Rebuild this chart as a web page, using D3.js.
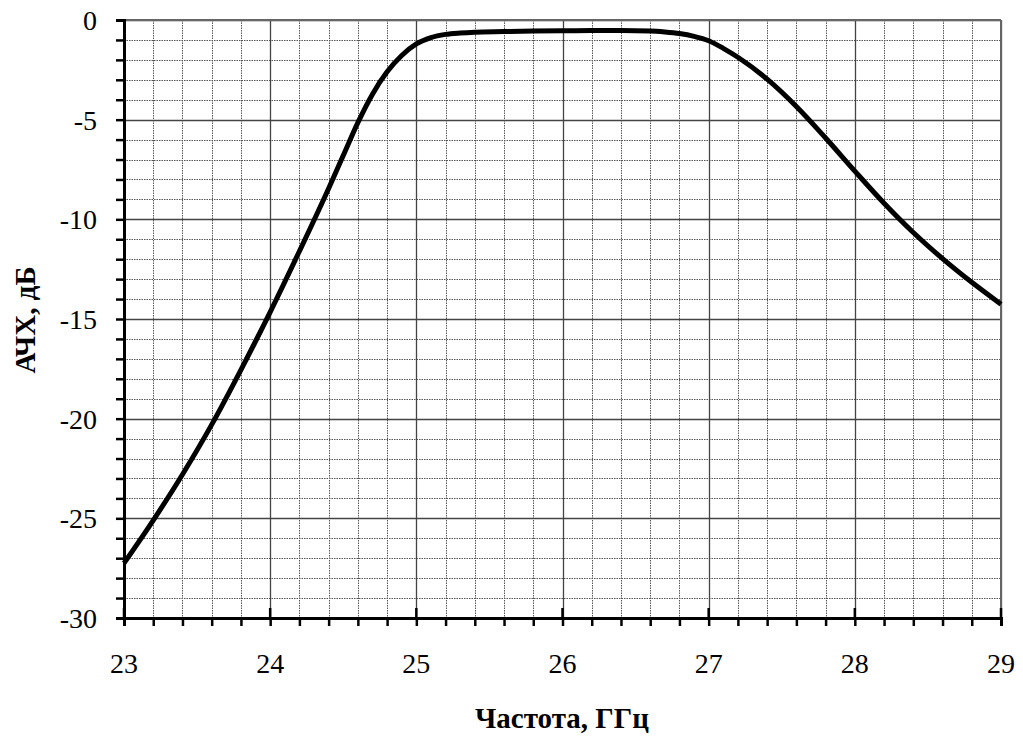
<!DOCTYPE html>
<html>
<head>
<meta charset="utf-8">
<script src="https://cdn.jsdelivr.net/npm/d3@7"></script>
<style>
  body { margin: 0; background: #fff; }
</style>
</head>
<body>
<svg width="1023" height="737" font-family="'Liberation Serif', 'Times New Roman', serif"></svg>
<script>
// frequency, GHz
var freq = [23.0, 23.2, 23.4, 23.6, 23.8, 24.0, 24.2, 24.4, 24.5, 24.6, 24.7, 24.8, 24.9, 25.0, 25.1, 25.2, 25.3,
            25.4, 25.6, 25.8, 26.0, 26.2, 26.4, 26.6, 26.7, 26.8, 26.9, 27.0, 27.1, 27.2, 27.4,
            27.6, 27.8, 28.0, 28.2, 28.4, 28.6, 28.8, 29.0];
// АЧХ, dB
var gain = [-27.25, -25.1, -22.8, -20.3, -17.55, -14.65, -11.6, -8.45, -6.8, -5.15, -3.72, -2.6, -1.78, -1.2, -0.88, -0.72, -0.65,
            -0.61, -0.58, -0.55, -0.54, -0.53, -0.53, -0.55, -0.6, -0.68, -0.82, -1.04, -1.42, -1.87, -2.97,
            -4.34, -5.92, -7.58, -9.19, -10.66, -11.97, -13.16, -14.26];

var xTicks = [23, 24, 25, 26, 27, 28, 29];
var yTicks = [0, -5, -10, -15, -20, -25, -30];

var plotLeft = 124, plotRight = 1001, plotTop = 20, plotBottom = 618;

var svg = d3.select("svg");

var x = d3.scaleLinear().domain([23, 29]).range([plotLeft, plotRight]);
var y = d3.scaleLinear().domain([-30, 0]).range([plotBottom, plotTop]);

var xMinor = d3.range(0, 31).map(function(i) { return 23 + i * 0.2; });
var yMinor = d3.range(-30, 1);

// minor grid (dotted)
svg.append("g").selectAll("line")
  .data(xMinor)
  .enter()
  .append("line")
  .attr("x1", function(d) { return Math.round(x(d)) + 0.5; })
  .attr("x2", function(d) { return Math.round(x(d)) + 0.5; })
  .attr("y1", plotTop)
  .attr("y2", plotBottom)
  .attr("stroke", "#555")
  .attr("stroke-width", 1)
  .attr("stroke-dasharray", "1.5,1");

svg.append("g").selectAll("line")
  .data(yMinor)
  .enter()
  .append("line")
  .attr("x1", plotLeft)
  .attr("x2", plotRight)
  .attr("y1", function(d) { return Math.round(y(d)) + 0.5; })
  .attr("y2", function(d) { return Math.round(y(d)) + 0.5; })
  .attr("stroke", "#555")
  .attr("stroke-width", 1)
  .attr("stroke-dasharray", "1.5,1");

// major grid (solid)
svg.append("g").selectAll("line")
  .data(xTicks)
  .enter()
  .append("line")
  .attr("x1", function(d) { return Math.round(x(d)) + 0.5; })
  .attr("x2", function(d) { return Math.round(x(d)) + 0.5; })
  .attr("y1", plotTop)
  .attr("y2", plotBottom)
  .attr("stroke", "#444")
  .attr("stroke-width", 1.3);

svg.append("g").selectAll("line")
  .data(yTicks)
  .enter()
  .append("line")
  .attr("x1", plotLeft)
  .attr("x2", plotRight)
  .attr("y1", function(d) { return Math.round(y(d)) + 0.5; })
  .attr("y2", function(d) { return Math.round(y(d)) + 0.5; })
  .attr("stroke", "#444")
  .attr("stroke-width", 1.3);

// top and right border
svg.append("line").attr("x1", plotLeft).attr("x2", plotRight).attr("y1", plotTop).attr("y2", plotTop)
  .attr("stroke", "#666").attr("stroke-width", 2);
svg.append("line").attr("x1", plotRight).attr("x2", plotRight).attr("y1", plotTop).attr("y2", plotBottom)
  .attr("stroke", "#666").attr("stroke-width", 2);

// axes
var xAxis = d3.axisBottom(x).tickValues(xMinor).tickSize(8).tickFormat("");
var yAxis = d3.axisLeft(y).tickValues(yMinor).tickSize(8).tickFormat("");

var gx = svg.append("g").attr("transform", "translate(0," + plotBottom + ")").call(xAxis);
var gy = svg.append("g").attr("transform", "translate(" + plotLeft + ",0)").call(yAxis);

[gx, gy].forEach(function(g) {
  g.select(".domain").attr("stroke", "#000").attr("stroke-width", 3);
  g.selectAll(".tick line").attr("stroke", "#000").attr("stroke-width", 2.5);
});

// inner part of major ticks on x axis
svg.append("g").selectAll("line")
  .data(xTicks)
  .enter()
  .append("line")
  .attr("x1", function(d) { return x(d); })
  .attr("x2", function(d) { return x(d); })
  .attr("y1", plotBottom - 10)
  .attr("y2", plotBottom)
  .attr("stroke", "#000")
  .attr("stroke-width", 2.5);

// tick labels
svg.append("g").selectAll("text")
  .data(xTicks)
  .enter()
  .append("text")
  .attr("x", function(d) { return x(d); })
  .attr("y", 673)
  .attr("text-anchor", "middle")
  .attr("font-size", 28)
  .text(function(d) { return d; });

svg.append("g").selectAll("text")
  .data(yTicks)
  .enter()
  .append("text")
  .attr("x", 97)
  .attr("y", function(d) { return y(d) + 10; })
  .attr("text-anchor", "end")
  .attr("font-size", 28)
  .text(function(d) { return d; });

// curve
var line = d3.line()
  .x(function(d) { return x(d[0]); })
  .y(function(d) { return y(d[1]); })
  .curve(d3.curveMonotoneX);

svg.append("path")
  .datum(d3.zip(freq, gain))
  .attr("d", line)
  .attr("fill", "none")
  .attr("stroke", "#000")
  .attr("stroke-width", 5)
  .attr("stroke-linejoin", "round");

// axis titles
svg.append("text")
  .attr("x", 562)
  .attr("y", 728)
  .attr("text-anchor", "middle")
  .attr("font-size", 29)
  .attr("font-weight", "bold")
  .text("Частота, ГГц");

svg.append("text")
  .attr("transform", "translate(35,320) rotate(-90)")
  .attr("text-anchor", "middle")
  .attr("font-size", 29)
  .attr("font-weight", "bold")
  .text("АЧХ, дБ");
</script>
</body>
</html>
